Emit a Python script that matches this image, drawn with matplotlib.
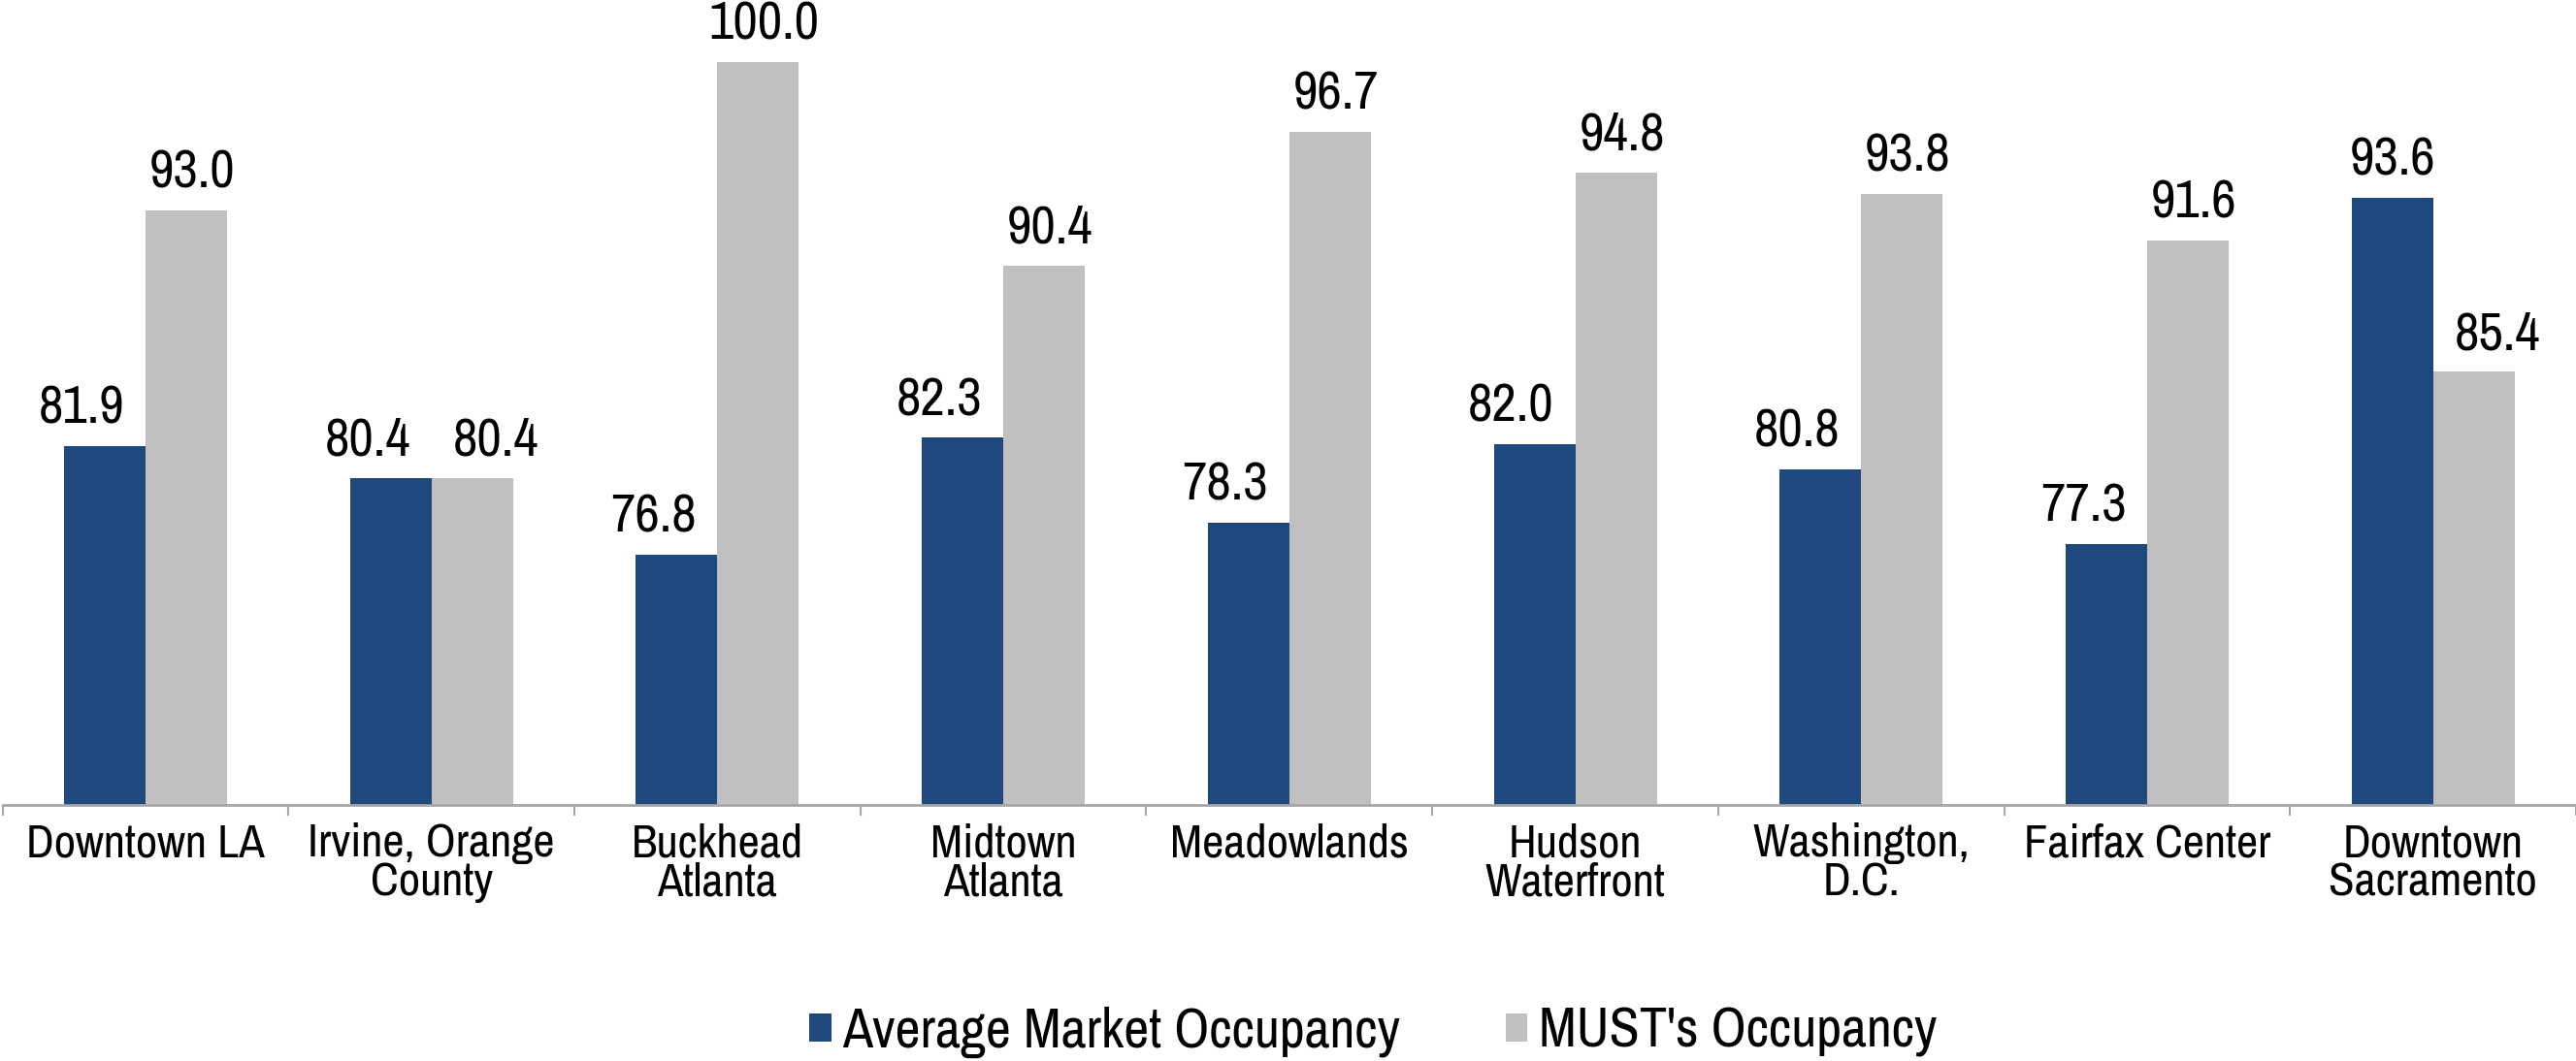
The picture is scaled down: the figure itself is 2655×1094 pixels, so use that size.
import matplotlib
matplotlib.use("Agg")
import matplotlib.pyplot as plt
import numpy as np

categories = ["Downtown LA", "Irvine, Orange\nCounty", "Buckhead\nAtlanta", "Midtown\nAtlanta",
              "Meadowlands", "Hudson\nWaterfront", "Washington,\nD.C.", "Fairfax Center",
              "Downtown\nSacramento"]
market_occ = [81.9, 80.4, 76.8, 82.3, 78.3, 82.0, 80.8, 77.3, 93.6]
must_occ = [93.0, 80.4, 100.0, 90.4, 96.7, 94.8, 93.8, 91.6, 85.4]
series_names = ["Average Market Occupancy", "MUST's Occupancy"]

plt.rcParams['font.family'] = ['Archivo Narrow', 'DejaVu Sans']

BLUE = "#1F497D"
GREY = "#BFBFBF"

fig = plt.figure(figsize=(26.55, 10.94), dpi=100)
ax = fig.add_axes([0.001, 0.2413, 0.999, 0.7587])

x = np.arange(len(categories))
w = 0.285
b1 = ax.bar(x - w / 2, market_occ, w, color=BLUE, label=series_names[0])
b2 = ax.bar(x + w / 2, must_occ, w, color=GREY, label=series_names[1])

# value labels, pushed sideways (as in the original) when the neighbour bar is taller
for i in range(len(x)):
    m, s = market_occ[i], must_occ[i]
    dx_m = -24 if s >= m else 0
    dx_s = 24 if m >= s else 6
    ax.annotate(f"{m:.1f}", (x[i] - w / 2, m), xytext=(dx_m * 0.72, 9.5), textcoords="offset points",
                ha="center", va="bottom", fontsize=40)
    ax.annotate(f"{s:.1f}", (x[i] + w / 2, s), xytext=(dx_s * 0.72, 9.5), textcoords="offset points",
                ha="center", va="bottom", fontsize=40)

ax.set_xlim(-0.5, len(categories) - 0.5)
ax.set_ylim(65, 102.92)

ax.set_xticks(x)
ax.set_xticklabels(categories, fontsize=35, linespacing=0.92)
ax.set_xticks(np.arange(len(categories) + 1) - 0.5, minor=True)
ax.tick_params(axis="x", which="major", length=0, pad=13)
ax.tick_params(axis="x", which="minor", length=8, width=1.5, color="#A6A6A6")
ax.set_yticks([])
for side in ["top", "right", "left"]:
    ax.spines[side].set_visible(False)
ax.spines["bottom"].set_color("#A6A6A6")
ax.spines["bottom"].set_linewidth(2)

fig.legend(loc="center", bbox_to_anchor=(0.533, 0.027), ncol=2, frameon=False, fontsize=41,
           handlelength=0.4, handleheight=0.4, handletextpad=0.2, columnspacing=1.9)

fig.savefig("out.png", dpi=100)
